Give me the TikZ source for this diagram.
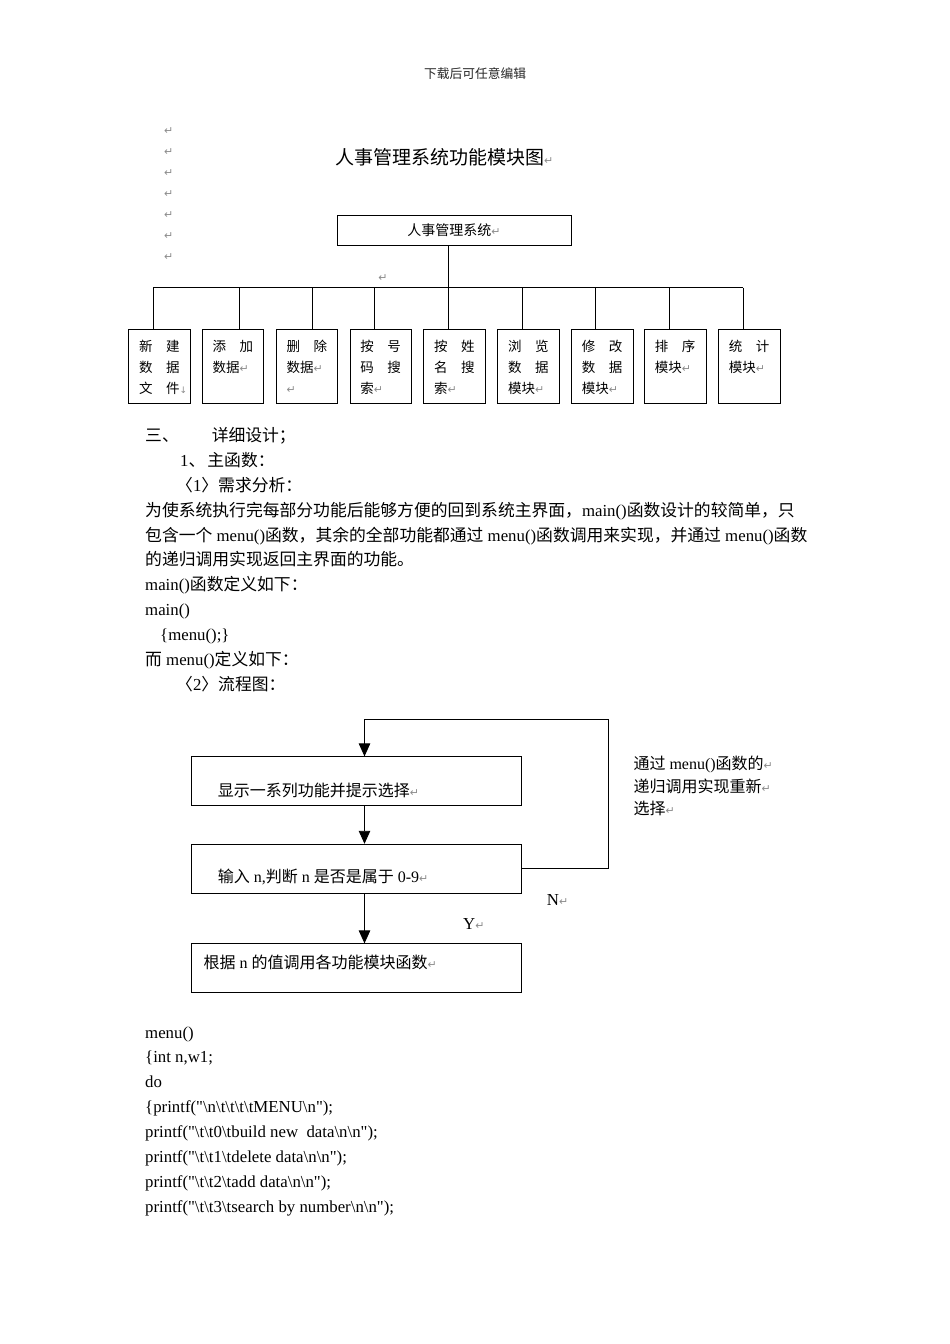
\documentclass[tikz,border=0pt]{standalone}
\usepackage{fontspec}
\setmainfont{Liberation Serif}
\newfontfamily\cjk{Noto Sans CJK SC}
\newfontfamily\symb{DejaVu Sans}
\usetikzlibrary{arrows.meta,positioning}
\newcommand\ret{{\symb\fontsize{11}{11}\selectfont\color{black!45}↵}}
\newcommand\brk{{\symb\fontsize{9}{9}\selectfont\color{black!45}↓}}
\newcommand\bks{\textbackslash}
\newcommand\dq{\textquotedbl}

\begin{document}
\begin{tikzpicture}[x=1pt,y=-1pt,>={Triangle[length=13pt,width=11.5pt]},
  txt/.style={anchor=base west,inner sep=0pt,font=\fontsize{16.8}{25}\selectfont},
  mod/.style={draw,line width=0.8pt,minimum width=61.5pt,minimum height=73.7pt,inner sep=0pt},
  modtxt/.style={anchor=north west,align=left,inner sep=0pt,font=\cjk\fontsize{13.5}{21}\selectfont},
  flow/.style={draw,line width=0.8pt,minimum width=330pt,minimum height=49pt,inner sep=0pt},
  flowtxt/.style={anchor=base west,inner sep=0pt,font=\fontsize{16}{22.5}\selectfont}]
\useasboundingbox (0,0) rectangle (950,1344);
\fill[white] (0,0) rectangle (950,1344);
% page header
\node[txt,anchor=base,font=\cjk\fontsize{12.75}{14}\selectfont,text=black!85] (hdr) at (475,78.8) {下载后可任意编辑};
% empty paragraphs
\foreach \k in {0,...,6} \node[inner sep=0pt,anchor=west] (pm\k) at (164,131+21*\k) {\ret};
% module chart
\node[txt,font=\cjk\fontsize{19}{19}\selectfont] (title) at (335,164) {人事管理系统功能模块图\ret};
\node[draw,line width=0.8pt,minimum width=234pt,minimum height=30.7pt,inner sep=0pt,font=\cjk\fontsize{14}{14}\selectfont] (sys) at (454,230.3) {人事管理系统\ret};
\node[inner sep=0pt] (pmc) at (383,278) {\ret};
\foreach \i/\cx/\dx/\lbl in {1/159.5/153.3/{新　建\\数　据\\文　件\brk},2/233.1/239.3/{添　加\\数据\ret},3/307/312.7/{删　除\\数据\ret\\\ret},4/380.7/374.3/{按　号\\码　搜\\索\ret},5/454.5/448.3/{按　姓\\名　搜\\索\ret},6/528.5/522.3/{浏　览\\数　据\\模块\ret},7/602.2/595.7/{修　改\\数　据\\模块\ret},8/675.2/669.3/{排　序\\模块\ret},9/749.3/743.3/{统　计\\模块\ret}}{
  \node[mod] (m\i) at (\cx,366.2) {};
  \node[modtxt] (t\i) at ([xshift=10.5pt,yshift=-11pt]m\i.north west) {\lbl};
  \coordinate (d\i) at (\dx,287.7);
  \draw[line width=0.8pt] (d\i) -- (d\i |- m\i.north);
}
\draw[line width=0.8pt] (d1) -- (d9);
\draw[line width=0.8pt] (sys.south -| d5) -- (d5);
% body text
\node[txt] (sec) at (145,441.4) {{\cjk 三、}\hspace{33pt}{\cjk 详细设计；}};
\node[txt] (sub) at (180,466.3) {1{\cjk 、}\hspace{2pt}{\cjk 主函数：}};
\node[txt] (req) at (176,491.2) {{\cjk 〈}1{\cjk 〉需求分析：}};
\node[txt] (para1) at (145,516.1) {{\cjk 为使系统执行完每部分功能后能够方便的回到系统主界面，}main(){\cjk 函数设计的较简单，只}};
\node[txt] (para2) at (145,541) {{\cjk 包含一个} menu(){\cjk 函数，其余的全部功能都通过} menu(){\cjk 函数调用来实现，并通过} menu(){\cjk 函数}};
\node[txt] (para3) at (145,565.9) {{\cjk 的递归调用实现返回主界面的功能。}};
\node[txt] (mdef) at (145,590.8) {main(){\cjk 函数定义如下：}};
\node[txt] (mhead) at (145,615.7) {main()};
\node[txt] (mbody) at (160,640.6) {\{menu();\}};
\node[txt] (menudef) at (145,665.5) {{\cjk 而} menu(){\cjk 定义如下：}};
\node[txt] (flowhd) at (176,690.4) {{\cjk 〈}2{\cjk 〉流程图：}};
% flow chart
\node[flow] (fa) at (356.8,781.3) {};
\node[flow] (fb) at (356.8,868.7) {};
\node[flow] (fc) at (356.8,968.3) {};
\node[flowtxt] (ta) at (217.7,796) {{\cjk 显示一系列功能并提示选择}\ret};
\node[flowtxt] (tb) at (217.7,882.8) {{\cjk 输入} n,{\cjk 判断} n {\cjk 是否是属于} 0-9\ret};
\node[flowtxt] (tc) at (203.3,968.4) {{\cjk 根据} n {\cjk 的值调用各功能模块函数}\ret};
\coordinate (back) at (608.7,719.3);
\draw[->,line width=0.9pt] ([xshift=7.7pt]fa.south) -- ([xshift=7.7pt]fb.north);
\draw[->,line width=0.9pt] ([xshift=7.7pt]fb.south) -- ([xshift=7.7pt]fc.north);
\draw[->,line width=0.9pt] (fb.east) -| (back) -| ([xshift=7.7pt]fa.north);
\node[txt] (lblN) at (546.7,905.5) {N\ret};
\node[txt] (lblY) at (463,929.5) {Y\ret};
\node[anchor=north west,align=left,inner sep=0pt,font=\fontsize{16}{22.5}\selectfont] (note) at (633.3,756) {{\cjk 通过} menu(){\cjk 函数的}\ret\\{\cjk 递归调用实现重新}\ret\\{\cjk 选择}\ret};
% code
\node[txt] (c1) at (145,1038) {menu()};
\node[txt] (c2) at (145,1062.9) {\{int n,w1;};
\node[txt] (c3) at (145,1087.8) {do};
\node[txt] (c4) at (145,1112.7) {\{printf(\dq\bks n\bks t\bks t\bks t\bks tMENU\bks n\dq);};
\node[txt] (c5) at (145,1137.6) {printf(\dq\bks t\bks t0\bks tbuild new\ \ data\bks n\bks n\dq);};
\node[txt] (c6) at (145,1162.5) {printf(\dq\bks t\bks t1\bks tdelete data\bks n\bks n\dq);};
\node[txt] (c7) at (145,1187.4) {printf(\dq\bks t\bks t2\bks tadd data\bks n\bks n\dq);};
\node[txt] (c8) at (145,1212.3) {printf(\dq\bks t\bks t3\bks tsearch by number\bks n\bks n\dq);};
\end{tikzpicture}
\end{document}
